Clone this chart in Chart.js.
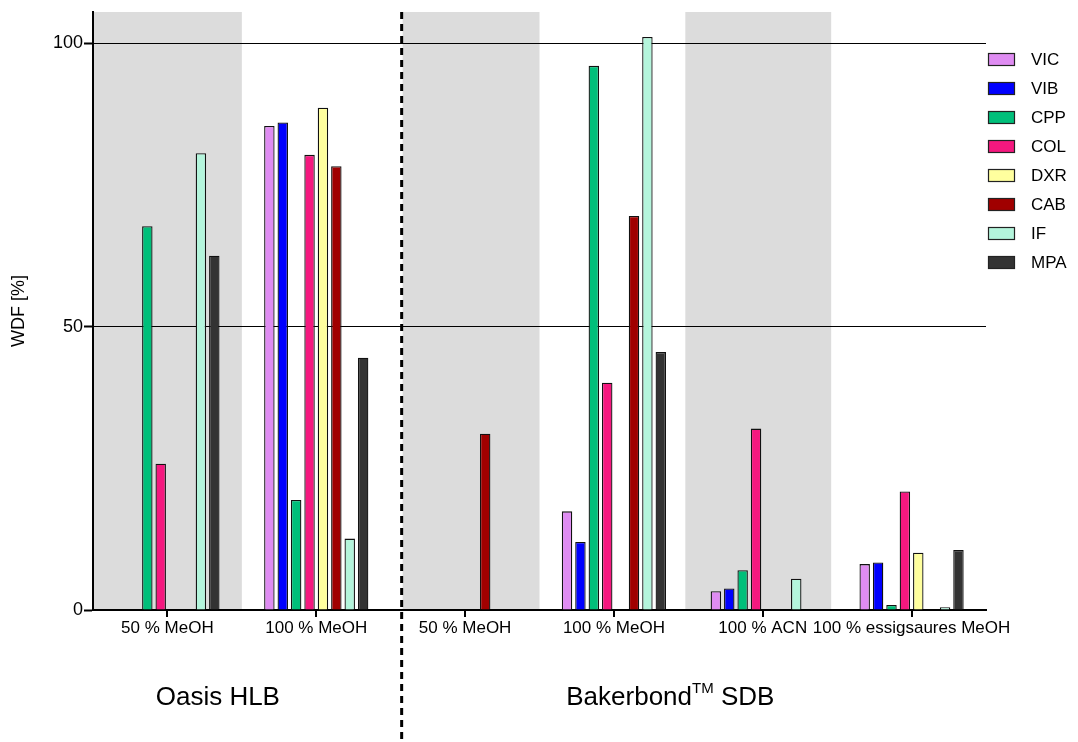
<!DOCTYPE html>
<html lang="de">
<head>
<meta charset="UTF-8">
<title>WDF</title>
<script src="https://cdn.jsdelivr.net/npm/chart.js"></script>
<style>
  body { margin: 0; background: #fff; }
</style>
</head>
<body>
<canvas id="chart" width="1078" height="742"></canvas>
<script>
// categories (eluent) and series (WDF in %)
const categories = ['50 % MeOH', '100 % MeOH', '50 % MeOH', '100 % MeOH', '100 % ACN', '100 % essigsaures MeOH'];
const yTicks = [0, 50, 100];

const VIC = [null, 85.4, null, 17.4, 3.3, 8.1];
const VIB = [null, 86.0, null, 12.0, 3.8, 8.4];
const CPP = [67.7, 19.4, null, 96.0, 7.0, 0.9];
const COL = [25.8, 80.3, null, 40.1, 32.0, 20.9];
const DXR = [null, 88.6, null, null, null, 10.1];
const CAB = [null, 78.3, 31.1, 69.5, null, null];
const IF = [80.6, 12.6, null, 101.1, 5.5, 0.5];
const MPA = [62.5, 44.5, null, 45.5, null, 10.6];

const seriesNames = ['VIC', 'VIB', 'CPP', 'COL', 'DXR', 'CAB', 'IF', 'MPA'];
const seriesData = [VIC, VIB, CPP, COL, DXR, CAB, IF, MPA];
const seriesColors = ['#DF8CF2', '#0000FF', '#00BF7A', '#F5187F', '#FFFF9E', '#A00000', '#B4F5DC', '#333333'];

const FONT = 'Liberation Sans, Arial, sans-serif';

// gray bands behind every other group
const bandsPlugin = {
  id: 'bands',
  beforeDraw(chart) {
    const { ctx, chartArea, scales } = chart;
    const x = scales.x;
    const w = x.width / categories.length;
    const dashX = x.getPixelForValue(1.5) + 11;
    ctx.save();
    ctx.fillStyle = '#DCDCDC';
    [0, 2, 4].forEach(i => {
      let l = x.getPixelForValue(i) - w / 2;
      let r = x.getPixelForValue(i) + w / 2;
      if (i === 2) l = dashX + 1;
      if (i === 4) { l -= 3; r -= 6; }
      l = Math.max(l, chartArea.left + 1);
      ctx.fillRect(l, chartArea.top, r - l, chartArea.bottom - chartArea.top);
    });
    ctx.restore();
  }
};

// dashed separator, group labels, legend
const extrasPlugin = {
  id: 'extras',
  afterDraw(chart) {
    const { ctx, chartArea, scales } = chart;
    const x = scales.x;
    const dashX = x.getPixelForValue(1.5) + 11;

    ctx.save();
    ctx.strokeStyle = '#000';
    ctx.lineWidth = 3;
    ctx.setLineDash([7, 5]);
    ctx.beginPath();
    ctx.moveTo(dashX, chartArea.top);
    ctx.lineTo(dashX, chart.height);
    ctx.stroke();
    ctx.setLineDash([]);

    // group names
    ctx.fillStyle = '#000';
    ctx.textBaseline = 'middle';
    ctx.font = '26px ' + FONT;
    ctx.textAlign = 'center';
    ctx.fillText('Oasis HLB', x.getPixelForValue(0.5) - 24, 698);

    const big = '26px ' + FONT, small = '15px ' + FONT;
    ctx.font = big;
    const w1 = ctx.measureText('Bakerbond').width;
    const w3 = ctx.measureText(' SDB').width;
    ctx.font = small;
    const w2 = ctx.measureText('TM').width;
    let cx = x.getPixelForValue(3.5) - 18 - (w1 + w2 + w3) / 2;
    ctx.textAlign = 'left';
    ctx.font = big;
    ctx.fillText('Bakerbond', cx, 698);
    ctx.font = small;
    ctx.fillText('TM', cx + w1, 689);
    ctx.font = big;
    ctx.fillText(' SDB', cx + w1 + w2, 698);

    // legend
    ctx.font = '17px ' + FONT;
    seriesNames.forEach((name, i) => {
      const y = 59.5 + i * 29;
      ctx.fillStyle = seriesColors[i];
      ctx.fillRect(988, y - 6.5, 27, 13);
      ctx.strokeStyle = '#222';
      ctx.lineWidth = 1.2;
      ctx.strokeRect(988.5, y - 6, 26, 12);
      ctx.fillStyle = '#000';
      ctx.fillText(name, 1031, y + 1);
    });
    ctx.restore();
  }
};

new Chart(document.getElementById('chart'), {
  type: 'bar',
  data: {
    labels: categories,
    datasets: seriesNames.map((name, i) => ({
      label: name,
      data: seriesData[i],
      backgroundColor: seriesColors[i],
      borderColor: '#111',
      borderWidth: 1.3,
      categoryPercentage: 0.72,
      barPercentage: 0.78
    }))
  },
  options: {
    responsive: false,
    animation: false,
    layout: { padding: { left: 0, top: 12, right: 92, bottom: 0 } },
    plugins: {
      legend: { display: false },
      tooltip: { enabled: false }
    },
    scales: {
      x: {
        afterFit: s => { s.height = 132; },
        grid: { offset: false, drawOnChartArea: false, color: '#000', lineWidth: 2, tickLength: 7 },
        border: { color: '#000', width: 2 },
        ticks: { color: '#000', font: { family: FONT, size: 17 }, maxRotation: 0, autoSkip: false, padding: 1 }
      },
      y: {
        min: 0,
        max: 105.5,
        afterFit: s => { s.width = 93; },
        afterBuildTicks: s => { s.ticks = yTicks.map(v => ({ value: v })); },
        grid: { color: '#000', lineWidth: 1, tickLength: 9, tickWidth: 2 },
        border: { color: '#000', width: 2 },
        ticks: { color: '#000', font: { family: FONT, size: 18 }, padding: 1 },
        title: { display: true, text: 'WDF [%]', color: '#000', font: { family: FONT, size: 18 }, padding: { top: 8, bottom: 0 } }
      }
    }
  },
  plugins: [bandsPlugin, extrasPlugin]
});
</script>
</body>
</html>
